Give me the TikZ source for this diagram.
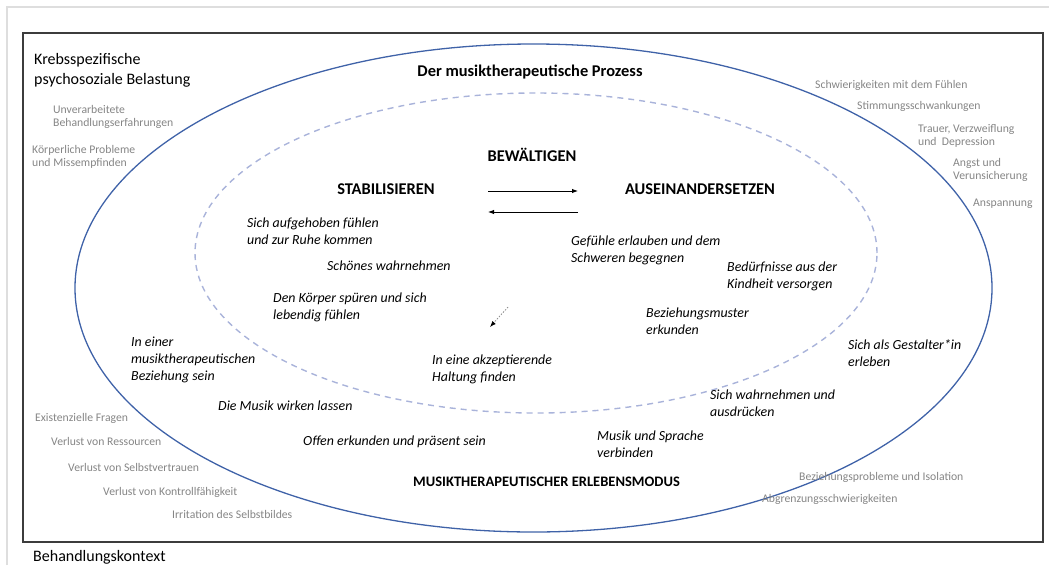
\documentclass[tikz,border=0pt]{standalone}
\usepackage{fontspec}
\setmainfont{Carlito}
\usetikzlibrary{arrows.meta}
\definecolor{ringblue}{HTML}{3F62A8}
\definecolor{innerdash}{HTML}{A9B3DA}
\definecolor{softgrey}{HTML}{858585}
\definecolor{framegrey}{HTML}{DEDEDE}
\definecolor{boxgrey}{HTML}{3C3C3C}
\tikzset{
  heading/.style={inner sep=0, anchor=north west, align=left, font=\fontsize{16}{20}\selectfont},
  strain/.style={inner sep=0, anchor=north west, align=left, text=softgrey, font=\fontsize{11.7}{13}\selectfont},
  caption/.style={inner sep=0, anchor=center, font=\fontsize{16.4}{18}\selectfont\bfseries},
  mode/.style={inner sep=0, anchor=north west, align=left, font=\fontsize{13.9}{17}\selectfont\itshape},
  swap/.style={line width=0.9pt, -{Latex[length=6pt,width=4.5pt]}},
}
\begin{document}
\begin{tikzpicture}[x=1pt, y=-1pt]
\useasboundingbox (0,0) rectangle (1049,565);
% page frame and treatment context box
\draw[framegrey, line width=2pt] (7,565) -- (7,7) -- (1049,7);
\draw[boxgrey, line width=1.8pt] (23,33) rectangle (1043,542);
% process ellipse and coping ellipse
\draw[ringblue, line width=1.3pt] (533.5,288) ellipse [x radius=458.5pt, y radius=244pt];
\draw[innerdash, line width=1.4pt, dash pattern=on 6pt off 5pt] (536,253) ellipse [x radius=341pt, y radius=160pt];

% corner headings
\node[heading] (belastung) at (34,52.8) {Krebsspezifische\\psychosoziale Belastung};
\node[heading] (kontext) at (33,549.8) {Behandlungskontext};

% cancer-specific strains, left side
\node[strain] (s1) at (53,104.7) {Unverarbeitete\\Behandlungserfahrungen};
\node[strain] (s2) at (32,144.7) {Körperliche Probleme\\und Missempfinden};
\node[strain] (s3) at (35,412.7) {Existenzielle Fragen};
\node[strain] (s4) at (51,436.7) {Verlust von Ressourcen};
\node[strain] (s5) at (68,462.7) {Verlust von Selbstvertrauen};
\node[strain] (s6) at (103,486.7) {Verlust von Kontrollfähigkeit};
\node[strain] (s7) at (172,509.7) {Irritation des Selbstbildes};
% cancer-specific strains, right side
\node[strain] (s8) at (815,79.7) {Schwierigkeiten mit dem Fühlen};
\node[strain] (s9) at (857,100.7) {Stimmungsschwankungen};
\node[strain] (s10) at (918,124.2) {Trauer, Verzweiflung\\und~ Depression};
\node[strain] (s11) at (953,158.2) {Angst und\\Verunsicherung};
\node[strain] (s12) at (973,198.7) {Anspannung};
\node[strain] (s13) at (799,471.7) {Beziehungsprobleme und Isolation};
\node[strain] (s14) at (762,493.7) {Abgrenzungsschwierigkeiten};

% captions
\node[caption] (prozess) at (530,72) {Der musiktherapeutische Prozess};
\node[caption] (bew) at (532,155) {BEWÄLTIGEN};
\node[caption] (stab) at (386,189) {STABILISIEREN};
\node[caption] (ausein) at (700,189) {AUSEINANDERSETZEN};
\node[caption, font=\fontsize{14.5}{17}\selectfont\bfseries] (modus) at (546.5,482) {MUSIKTHERAPEUTISCHER ERLEBENSMODUS};

% coping: stabilising
\node[mode] (m1) at (247,217.7) {Sich aufgehoben fühlen\\und zur Ruhe kommen};
\node[mode] (m2) at (327,260.7) {Schönes wahrnehmen};
\node[mode] (m3) at (273,292.7) {Den Körper spüren und sich\\lebendig fühlen};
\node[mode] (m4) at (432,354.7) {In eine akzeptierende\\Haltung finden};
% coping: confronting
\node[mode] (m5) at (571,235.7) {Gefühle erlauben und dem\\Schweren begegnen};
\node[mode] (m6) at (727,261.7) {Bedürfnisse aus der\\Kindheit versorgen};
\node[mode] (m7) at (646,307.7) {Beziehungsmuster\\erkunden};
% music-therapeutic mode of experience
\node[mode] (e1) at (131,336.7) {In einer\\musiktherapeutischen\\Beziehung sein};
\node[mode] (e2) at (218,400.7) {Die Musik wirken lassen};
\node[mode] (e3) at (303,435.7) {Offen erkunden und präsent sein};
\node[mode] (e4) at (597,430.7) {Musik und Sprache\\verbinden};
\node[mode] (e5) at (710,389.7) {Sich wahrnehmen und\\ausdrücken};
\node[mode] (e6) at (848,339.7) {Sich als Gestalter*in\\erleben};

% arrows between stabilising and confronting
\coordinate (fwdA) at (488,191);
\coordinate (fwdB) at (578,191);
\coordinate (backA) at (578,212);
\coordinate (backB) at (488,212);
\draw[swap] (fwdA) -- (fwdB);
\draw[swap] (backA) -- (backB);
% drift towards acceptance
\coordinate (driftA) at (508,307);
\coordinate (driftB) at (490,327);
\draw[softgrey, line width=0.7pt, dash pattern=on 1.5pt off 1.5pt, -{Latex[length=6pt,width=4.5pt,black]}] (driftA) -- (driftB);
\end{tikzpicture}
\end{document}
